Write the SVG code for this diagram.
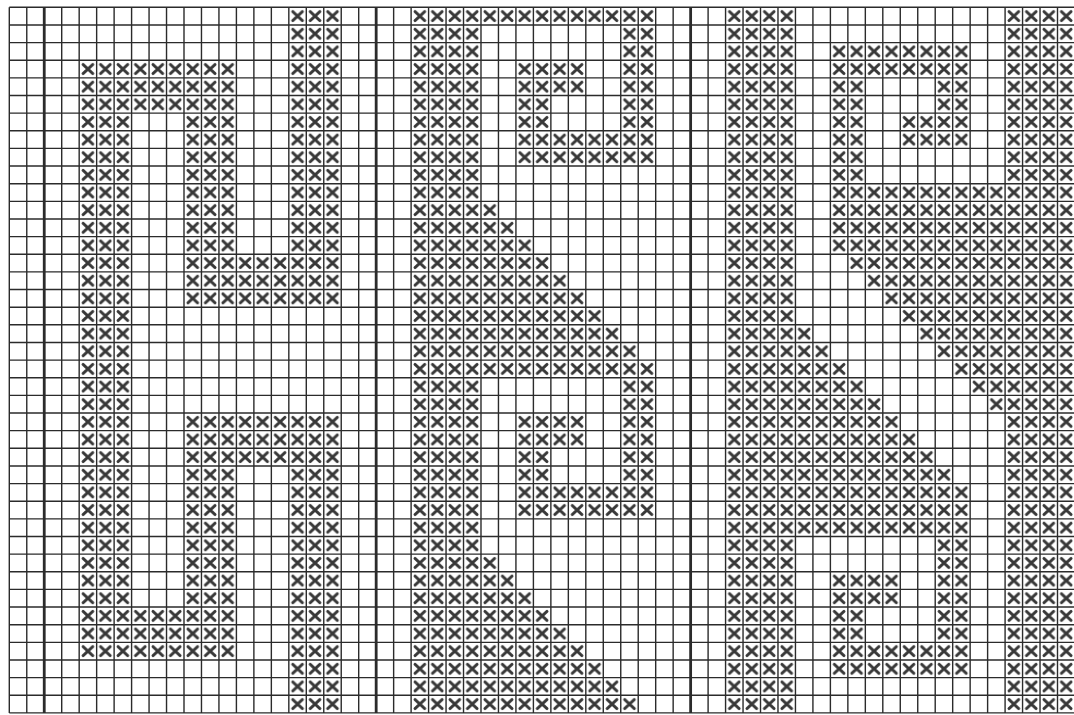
<svg xmlns="http://www.w3.org/2000/svg" width="1074" height="715" viewBox="0 0 1074 715">
<style>
.bg{fill:#ffffff}
.grid{fill:none;stroke:#2b2b2b;stroke-width:1.4}
.heavy{fill:none;stroke:#2b2b2b;stroke-width:2.8}
.st{fill:url(#xs);stroke:none}
.xmark{fill:none;stroke:#383838;stroke-width:2.9;stroke-linecap:round}
</style>
<defs>
<pattern id="xs" patternUnits="userSpaceOnUse" x="9.3" y="7.3" width="17.47" height="17.64">
<path class="xmark" d="M3.9 4.3L13.6 13.3M13.6 4.3L3.9 13.3"/>
</pattern>
</defs>
<rect class="bg" x="0" y="0" width="1074" height="715"/>
<g id="grid">
<path class="grid" d="M9.3 7.3V712.9M26.77 7.3V712.9M61.71 7.3V712.9M79.18 7.3V712.9M96.65 7.3V712.9M114.12 7.3V712.9M131.59 7.3V712.9M149.06 7.3V712.9M166.53 7.3V712.9M184 7.3V712.9M201.47 7.3V712.9M218.94 7.3V712.9M236.41 7.3V712.9M253.88 7.3V712.9M271.35 7.3V712.9M288.82 7.3V712.9M306.29 7.3V712.9M323.76 7.3V712.9M341.23 7.3V712.9M358.7 7.3V712.9M393.64 7.3V712.9M411.11 7.3V712.9M428.58 7.3V712.9M446.05 7.3V712.9M463.52 7.3V712.9M480.99 7.3V712.9M498.46 7.3V712.9M515.93 7.3V712.9M533.4 7.3V712.9M550.87 7.3V712.9M568.34 7.3V712.9M585.81 7.3V712.9M603.28 7.3V712.9M620.75 7.3V712.9M638.22 7.3V712.9M655.69 7.3V712.9M673.16 7.3V712.9M708.1 7.3V712.9M725.57 7.3V712.9M743.04 7.3V712.9M760.51 7.3V712.9M777.98 7.3V712.9M795.45 7.3V712.9M812.92 7.3V712.9M830.39 7.3V712.9M847.86 7.3V712.9M865.33 7.3V712.9M882.8 7.3V712.9M900.27 7.3V712.9M917.74 7.3V712.9M935.21 7.3V712.9M952.68 7.3V712.9M970.15 7.3V712.9M987.62 7.3V712.9M1005.09 7.3V712.9M1022.56 7.3V712.9M1040.03 7.3V712.9M1057.5 7.3V712.9"/>
<path class="grid" d="M9.3 7.3H1074M9.3 24.94H1074M9.3 42.58H1074M9.3 60.22H1074M9.3 77.86H1074M9.3 95.5H1074M9.3 113.14H1074M9.3 130.78H1074M9.3 148.42H1074M9.3 166.06H1074M9.3 183.7H1074M9.3 201.34H1074M9.3 218.98H1074M9.3 236.62H1074M9.3 254.26H1074M9.3 271.9H1074M9.3 289.54H1074M9.3 307.18H1074M9.3 324.82H1074M9.3 342.46H1074M9.3 360.1H1074M9.3 377.74H1074M9.3 395.38H1074M9.3 413.02H1074M9.3 430.66H1074M9.3 448.3H1074M9.3 465.94H1074M9.3 483.58H1074M9.3 501.22H1074M9.3 518.86H1074M9.3 536.5H1074M9.3 554.14H1074M9.3 571.78H1074M9.3 589.42H1074M9.3 607.06H1074M9.3 624.7H1074M9.3 642.34H1074M9.3 659.98H1074M9.3 677.62H1074M9.3 695.26H1074M9.3 712.9H1074"/>
<path class="heavy" d="M44.24 7.3V712.9M376.17 7.3V712.9M690.63 7.3V712.9"/>
</g>
<g id="stitches">
<g id="panel-1">
<rect class="st" x="79.18" y="60.22" width="52.41" height="599.76"/>
<rect class="st" x="131.59" y="60.22" width="52.41" height="52.92"/>
<rect class="st" x="131.59" y="607.06" width="52.41" height="52.92"/>
<rect class="st" x="184" y="60.22" width="52.41" height="246.96"/>
<rect class="st" x="184" y="413.02" width="52.41" height="246.96"/>
<rect class="st" x="236.41" y="254.26" width="52.41" height="52.92"/>
<rect class="st" x="236.41" y="413.02" width="52.41" height="52.92"/>
<rect class="st" x="288.82" y="7.3" width="52.41" height="299.88"/>
<rect class="st" x="288.82" y="413.02" width="52.41" height="299.88"/>
</g>
<g id="panel-2">
<rect class="st" x="411.11" y="7.3" width="244.58" height="17.64"/>
<rect class="st" x="411.11" y="24.94" width="69.88" height="687.96"/>
<rect class="st" x="620.75" y="24.94" width="34.94" height="141.12"/>
<rect class="st" x="515.93" y="60.22" width="69.88" height="35.28"/>
<rect class="st" x="515.93" y="95.5" width="34.94" height="35.28"/>
<rect class="st" x="515.93" y="130.78" width="104.82" height="35.28"/>
<rect class="st" x="480.99" y="201.34" width="17.47" height="17.64"/>
<rect class="st" x="480.99" y="218.98" width="34.94" height="17.64"/>
<rect class="st" x="480.99" y="236.62" width="52.41" height="17.64"/>
<rect class="st" x="480.99" y="254.26" width="69.88" height="17.64"/>
<rect class="st" x="480.99" y="271.9" width="87.35" height="17.64"/>
<rect class="st" x="480.99" y="289.54" width="104.82" height="17.64"/>
<rect class="st" x="480.99" y="307.18" width="122.29" height="17.64"/>
<rect class="st" x="480.99" y="324.82" width="139.76" height="17.64"/>
<rect class="st" x="480.99" y="342.46" width="157.23" height="17.64"/>
<rect class="st" x="480.99" y="360.1" width="174.7" height="17.64"/>
<rect class="st" x="620.75" y="377.74" width="34.94" height="141.12"/>
<rect class="st" x="515.93" y="413.02" width="69.88" height="35.28"/>
<rect class="st" x="515.93" y="448.3" width="34.94" height="35.28"/>
<rect class="st" x="515.93" y="483.58" width="104.82" height="35.28"/>
<rect class="st" x="480.99" y="554.14" width="17.47" height="17.64"/>
<rect class="st" x="480.99" y="571.78" width="34.94" height="17.64"/>
<rect class="st" x="480.99" y="589.42" width="52.41" height="17.64"/>
<rect class="st" x="480.99" y="607.06" width="69.88" height="17.64"/>
<rect class="st" x="480.99" y="624.7" width="87.35" height="17.64"/>
<rect class="st" x="480.99" y="642.34" width="104.82" height="17.64"/>
<rect class="st" x="480.99" y="659.98" width="122.29" height="17.64"/>
<rect class="st" x="480.99" y="677.62" width="139.76" height="17.64"/>
<rect class="st" x="480.99" y="695.26" width="157.23" height="17.64"/>
</g>
<g id="panel-3">
<rect class="st" x="725.57" y="7.3" width="69.88" height="705.6"/>
<rect class="st" x="1005.09" y="7.3" width="69.88" height="705.6"/>
<rect class="st" x="830.39" y="42.58" width="139.76" height="35.28"/>
<rect class="st" x="830.39" y="77.86" width="34.94" height="105.84"/>
<rect class="st" x="935.21" y="77.86" width="34.94" height="70.56"/>
<rect class="st" x="900.27" y="113.14" width="34.94" height="35.28"/>
<rect class="st" x="830.39" y="183.7" width="174.7" height="70.56"/>
<rect class="st" x="847.86" y="254.26" width="157.23" height="17.64"/>
<rect class="st" x="865.33" y="271.9" width="139.76" height="17.64"/>
<rect class="st" x="882.8" y="289.54" width="122.29" height="17.64"/>
<rect class="st" x="900.27" y="307.18" width="104.82" height="17.64"/>
<rect class="st" x="917.74" y="324.82" width="87.35" height="17.64"/>
<rect class="st" x="935.21" y="342.46" width="69.88" height="17.64"/>
<rect class="st" x="952.68" y="360.1" width="52.41" height="17.64"/>
<rect class="st" x="970.15" y="377.74" width="34.94" height="17.64"/>
<rect class="st" x="987.62" y="395.38" width="17.47" height="17.64"/>
<rect class="st" x="795.45" y="324.82" width="17.47" height="17.64"/>
<rect class="st" x="795.45" y="342.46" width="34.94" height="17.64"/>
<rect class="st" x="795.45" y="360.1" width="52.41" height="17.64"/>
<rect class="st" x="795.45" y="377.74" width="69.88" height="17.64"/>
<rect class="st" x="795.45" y="395.38" width="87.35" height="17.64"/>
<rect class="st" x="795.45" y="413.02" width="104.82" height="17.64"/>
<rect class="st" x="795.45" y="430.66" width="122.29" height="17.64"/>
<rect class="st" x="795.45" y="448.3" width="139.76" height="17.64"/>
<rect class="st" x="795.45" y="465.94" width="157.23" height="17.64"/>
<rect class="st" x="795.45" y="483.58" width="174.7" height="52.92"/>
<rect class="st" x="935.21" y="536.5" width="34.94" height="141.12"/>
<rect class="st" x="830.39" y="571.78" width="69.88" height="35.28"/>
<rect class="st" x="830.39" y="607.06" width="34.94" height="35.28"/>
<rect class="st" x="830.39" y="642.34" width="104.82" height="35.28"/>
</g>
</g>
</svg>
